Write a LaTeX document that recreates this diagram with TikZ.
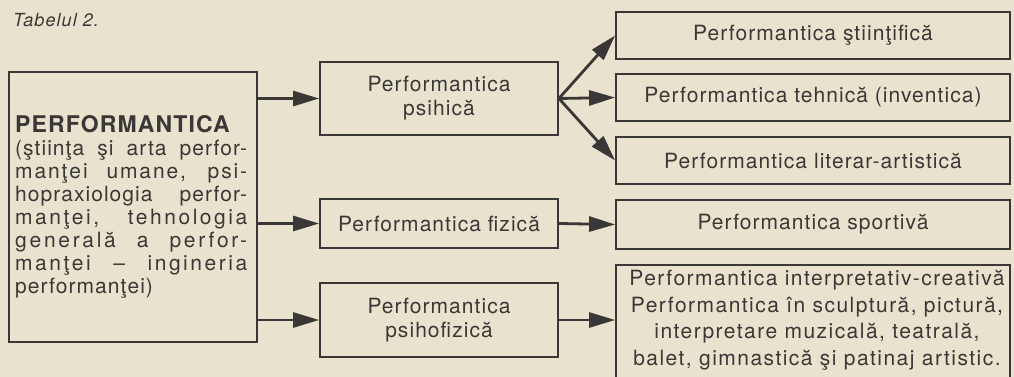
\documentclass[tikz,border=0pt]{standalone}
\usepackage{fontspec}
\setmainfont{TeX Gyre Heros}[LetterSpace=5]
\usetikzlibrary{arrows.meta}
\definecolor{paper}{HTML}{E9E2CE}
\definecolor{ink}{HTML}{3A3836}
\newcommand{\jline}[2]{\makebox[232pt][s]{\addfontfeatures{LetterSpace=#1}#2}}
\tikzset{
  boxframe/.style={draw=ink, line width=1.8pt, inner sep=0pt},
  boxtext/.style={text=ink, font=\fontsize{21}{24}\selectfont, align=center, inner sep=0pt},
  conn/.style={draw=ink, line width=2.8pt, -{Triangle[length=26pt,width=15pt]}},
}
\begin{document}
\begin{tikzpicture}[x=1pt,y=-1pt]
\fill[paper] (0,0) rectangle (1014,377);
\useasboundingbox (0,0) rectangle (1014,377);

\node[text=ink, anchor=base west, inner sep=0pt, font=\fontsize{18}{20}\selectfont\itshape\addfontfeatures{LetterSpace=6}] (title) at (13,27) {Tabelul 2.};

% main box
\node[boxframe, minimum width=248pt, minimum height=270pt] (main) at (133,207) {};
\node[anchor=north west, inner sep=0pt, text=ink, font=\fontsize{21}{23}\selectfont] (maintext) at (15,115) {\parbox[t]{232pt}{\baselineskip=23pt
{\bfseries\fontsize{23}{23}\selectfont PERFORMANTICA}\\
\jline{5}{(ştiinţa şi arta perfor-}\\
\jline{9}{manţei umane, psi-}\\
\jline{5}{hopraxiologia perfor-}\\
\jline{12}{manţei, tehnologia}\\
\jline{13}{generală a perfor-}\\
\jline{12}{manţei – ingineria}\\
performanţei)}};

% middle boxes
\node[boxframe, boxtext, minimum width=238pt, minimum height=73pt] (psih) at (439,98.5) {Performantica\\psihică};
\node[boxframe, boxtext, minimum width=238pt, minimum height=49pt] (fiz) at (439,223.5) {Performantica fizică};
\node[boxframe, boxtext, minimum width=238pt, minimum height=74pt] (psihofiz) at (439,320) {Performantica\\psihofizică};

% right boxes
\node[boxframe, boxtext, minimum width=394pt, minimum height=47pt] (r1) at (813,35.5) {Performantica ştiinţifică};
\node[boxframe, boxtext, minimum width=394pt, minimum height=47pt] (r2) at (813,97.5) {Performantica tehnică (inventica)};
\node[boxframe, boxtext, minimum width=394pt, minimum height=47pt] (r3) at (813,160.5) {Performantica literar-artistică};
\node[boxframe, boxtext, minimum width=394pt, minimum height=49pt] (r4) at (813,224.5) {Performantica sportivă};
\node[boxframe, anchor=north, minimum width=394pt, minimum height=130pt] (r5) at (813,264) {};
\node[boxtext, font=\fontsize{21}{26.5}\selectfont\addfontfeatures{LetterSpace=7}] (r5text) at (817,320) {Performantica interpretativ-creativă\\Performantica în sculptură, pictură,\\interpretare muzicală, teatrală,\\balet, gimnastică şi patinaj artistic.};

% connectors
\draw[conn] (main.east |- psih.west) -- (psih.west);
\draw[conn] (main.east |- fiz.west) -- (fiz.west);
\draw[conn] (main.east |- psihofiz.west) -- (psihofiz.west);
\draw[conn] (psih.east) -- (r1.west);
\draw[conn] (psih.east) -- (r2.west);
\draw[conn] (psih.east) -- (r3.west);
\draw[conn] (fiz.east) -- (r4.west);
\draw[conn] (psihofiz.east) -- (psihofiz.east -| r5.west);
\end{tikzpicture}
\end{document}
